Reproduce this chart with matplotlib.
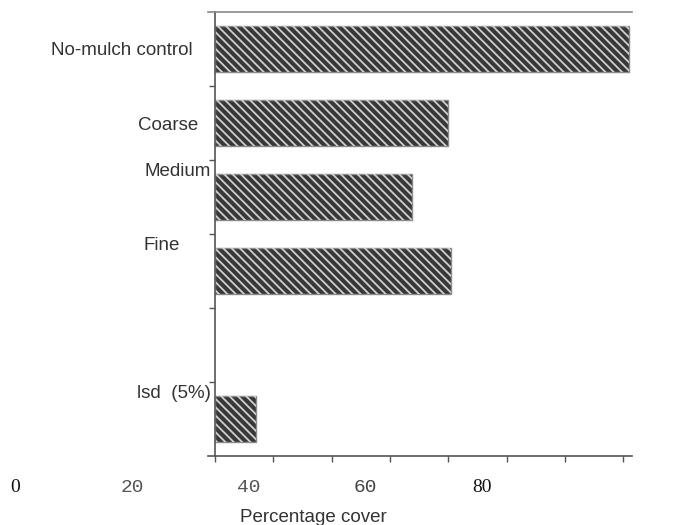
import matplotlib
matplotlib.use('Agg')
import matplotlib.pyplot as plt
import numpy as np

# data
categories = ['No-mulch control', 'Coarse', 'Medium', 'Fine', 'lsd  (5%)']
positions = [0, 1, 2, 3, 5]
cover = [71, 40, 33.8, 40.5, 7]

# category labels sit loosely beside the axis in the original
label_x = [-3.9, -2.9, -0.7, -6.0, -0.7]
label_y = [0.02, 1.03, 1.65, 2.65, 4.66]

# bottom tick labels (printed shifted to the left of the axis on the scan)
tick_vals = [0, 20, 40, 60, 80]
tick_fonts = ['Liberation Serif', 'Liberation Mono', 'Liberation Mono',
              'Liberation Mono', 'Liberation Serif']
tick_colors = ['#111111', '#555555', '#555555', '#444444', '#111111']

plt.rcParams['hatch.linewidth'] = 1.3

fig = plt.figure(figsize=(6.87, 5.25), dpi=100)
ax = fig.add_axes([208/687, 1 - 456/525, 424/687, 444/525])

ax.barh(positions, cover, height=0.61, color='#383838',
        edgecolor='#8a8a8a', linewidth=1.0)
ax.barh(positions, cover, height=0.61, color='none',
        edgecolor='#d0d0d0', hatch='\\\\\\\\', linewidth=0)

ax.set_xlim(-1.2, 71.5)
ax.set_ylim(5.5, -0.5)

ax.spines['right'].set_visible(False)
ax.spines['left'].set_position(('data', 0))
for s in ['left', 'bottom']:
    ax.spines[s].set_color('#555555')
    ax.spines[s].set_linewidth(1.2)
ax.spines['top'].set_color('#888888')
ax.spines['top'].set_linewidth(1.2)

ax.set_xticks(range(0, 71, 10))
ax.set_xticklabels([])
ax.set_yticks([0.5, 1.5, 2.5, 3.5, 4.5])
ax.set_yticklabels([])
ax.tick_params(axis='both', direction='out', length=4, width=1, color='#555555')

for name, x, y in zip(categories, label_x, label_y):
    ax.text(x, y, name, ha='right', va='center', fontsize=13.5,
            family='Liberation Sans', color='#333333', clip_on=False)

ax.set_xlabel('Percentage cover', fontsize=13.5, family='Liberation Sans',
              color='#333333')
ax.xaxis.set_label_coords((313 - 208) / 424, -(509 - 456) / 444)

# helper axis carrying the offset tick labels
ax2 = fig.add_axes([0, 1 - 498/525, 1, 20/525])
ax2.set_xlim(-15.5 / 5.83, (687 - 15.5) / 5.83)
ax2.set_ylim(0, 1)
ax2.axis('off')
for v, f, c in zip(tick_vals, tick_fonts, tick_colors):
    ax2.text(v, 0.5, str(v), ha='center', va='center', fontsize=14,
             family=f, color=c)

plt.savefig('out.png', dpi=100)
